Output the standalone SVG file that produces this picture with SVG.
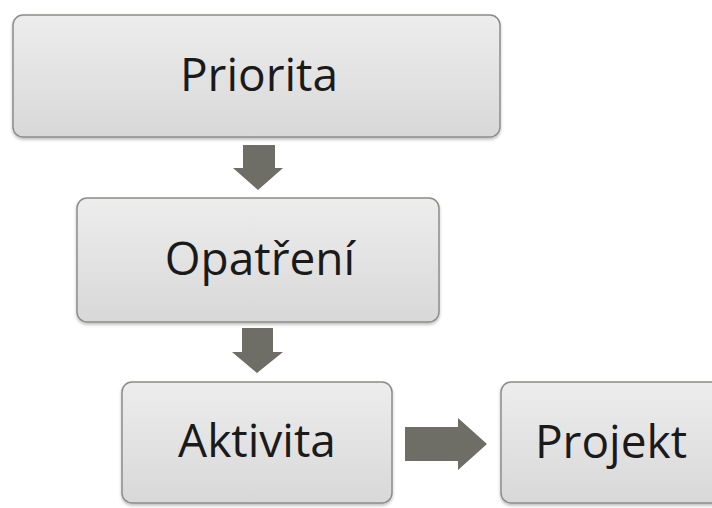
<svg xmlns="http://www.w3.org/2000/svg" width="712" height="508" viewBox="0 0 712 508">
  <defs>
    <linearGradient id="boxFill" x1="0" y1="0" x2="0" y2="1">
      <stop offset="0" stop-color="#ededed"/>
      <stop offset="1" stop-color="#d8d8d8"/>
    </linearGradient>
    <filter id="shadow" x="-5%" y="-5%" width="110%" height="115%">
      <feDropShadow dx="0" dy="2" stdDeviation="1.5" flood-color="#000" flood-opacity="0.25"/>
    </filter>
  </defs>
  <style>
    .box { fill: url(#boxFill); stroke: #8c8c88; stroke-width: 1.5; filter: url(#shadow); }
    .label { font-family: "Open Sans", "Liberation Sans", sans-serif; font-size: 46px; fill: #1a1a1a; text-anchor: middle; }
    .arrow { fill: #6e6d66; }
  </style>
  <rect width="712" height="508" fill="#ffffff"/>

  <g id="connectors">
    <polygon class="arrow" points="243,145 275,145 275,168 283,168 258,190 233,168 243,168"/>
    <polygon class="arrow" points="242,328 273,328 273,352 283,352 257,373 232,352 242,352"/>
    <polygon class="arrow" points="405,427 458,427 458,418 487,444 458,470 458,461 405,461"/>
  </g>

  <g id="node-priorita">
    <rect class="box" x="13" y="15" width="487" height="122" rx="10"/>
    <text class="label" x="259" y="91">Priorita</text>
  </g>

  <g id="node-opatreni">
    <rect class="box" x="77" y="198" width="362" height="124" rx="10"/>
    <text class="label" x="260" y="275">Opatření</text>
  </g>

  <g id="node-aktivita">
    <rect class="box" x="122" y="382" width="270" height="121" rx="10"/>
    <text class="label" x="257" y="457">Aktivita</text>
  </g>

  <g id="node-projekt">
    <rect class="box" x="501" y="382" width="240" height="121" rx="10"/>
    <text class="label" x="611" y="458">Projekt</text>
  </g>
</svg>
